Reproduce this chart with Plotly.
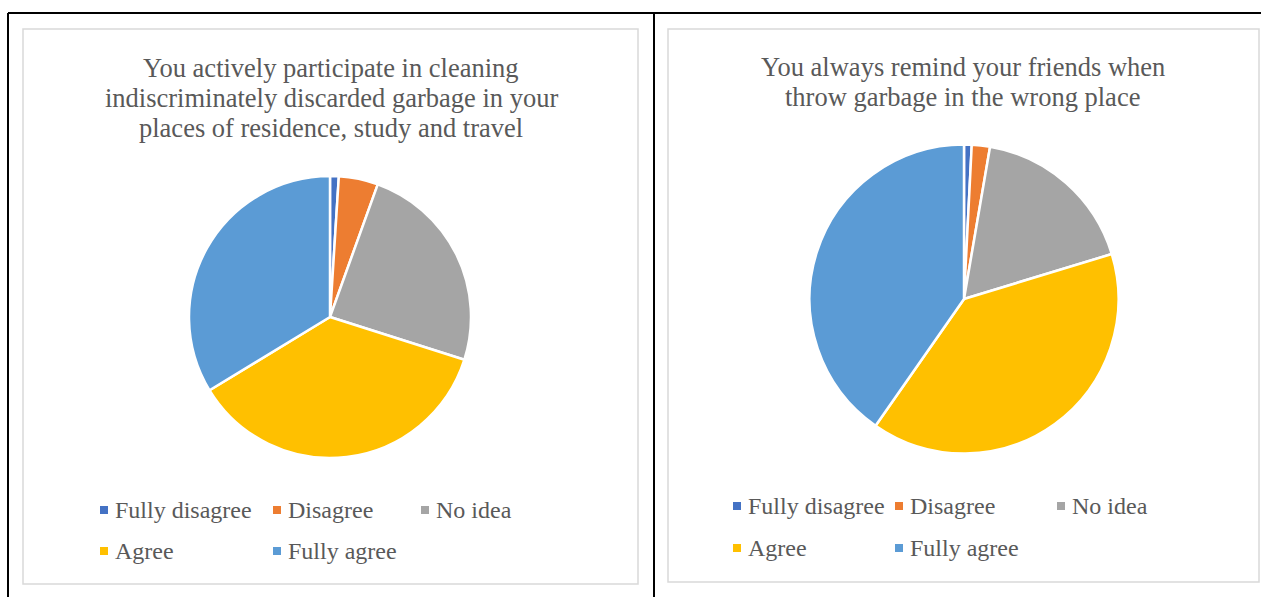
import plotly.graph_objects as go

W, H = 1261, 597

labels = ["Fully disagree", "Disagree", "No idea", "Agree", "Fully agree"]
colors = ["#4472C4", "#ED7D31", "#A5A5A5", "#FFC000", "#5B9BD5"]

participate_pct = [1.0, 4.5, 24.4, 36.4, 33.7]
remind_pct = [0.8, 1.9, 17.6, 39.4, 40.3]

title_left = ["You actively participate in cleaning",
              "indiscriminately discarded garbage in your",
              "places of residence, study and travel"]
title_right = ["You always remind your friends when",
               "throw garbage in the wrong place"]

FONT = "Liberation Serif, Times New Roman, serif"
TEXT = "#595959"


def px(x):
    return x / W


def py(y):
    return 1 - y / H


def pie_domain(cx, cy, r):
    return dict(x=[px(cx - r), px(cx + r)], y=[py(cy + r), py(cy - r)])


fig = go.Figure()

# left pie
fig.add_trace(go.Pie(
    labels=labels, values=participate_pct, sort=False,
    direction="clockwise", rotation=0,
    marker=dict(colors=colors, line=dict(color="white", width=2.5)),
    textinfo="none", showlegend=False,
    domain=pie_domain(330, 317, 141),
))

# right pie
fig.add_trace(go.Pie(
    labels=labels, values=remind_pct, sort=False,
    direction="clockwise", rotation=0,
    marker=dict(colors=colors, line=dict(color="white", width=2.5)),
    textinfo="none", showlegend=False,
    domain=pie_domain(964, 299, 154.5),
))

shapes = []
annotations = []

# table borders
black = dict(color="black", width=2)
shapes.append(dict(type="line", xref="paper", yref="paper",
                   x0=px(8), x1=1, y0=py(13), y1=py(13), line=black))
shapes.append(dict(type="line", xref="paper", yref="paper",
                   x0=px(8), x1=px(8), y0=py(13), y1=0, line=black))
shapes.append(dict(type="line", xref="paper", yref="paper",
                   x0=px(654), x1=px(654), y0=py(13), y1=0, line=black))

# chart frames
gray = dict(color="#D9D9D9", width=1.5)
for x0, x1, y0, y1 in [(23, 638, 29, 584), (668, 1259, 29, 582)]:
    shapes.append(dict(type="rect", xref="paper", yref="paper",
                       x0=px(x0), x1=px(x1), y0=py(y1), y1=py(y0), line=gray))

# titles
for lines, cx, y0 in [(title_left, 331, 68), (title_right, 963, 67)]:
    for i, t in enumerate(lines):
        annotations.append(dict(
            text=t, xref="paper", yref="paper", x=px(cx), y=py(y0 + 30 * i),
            xanchor="center", yanchor="middle", showarrow=False,
            font=dict(family=FONT, size=26.5, color=TEXT)))

# legends
legend_pos = [
    [(104, 510), (277, 510), (425, 510), (104, 551), (277, 551)],
    [(737, 506), (899, 506), (1061, 506), (737, 548), (899, 548)],
]
for pos in legend_pos:
    for lab, col, (mx, my) in zip(labels, colors, pos):
        shapes.append(dict(type="rect", xref="paper", yref="paper",
                           x0=px(mx - 4), x1=px(mx + 4), y0=py(my + 4), y1=py(my - 4),
                           fillcolor=col, line=dict(width=0)))
        annotations.append(dict(
            text=lab, xref="paper", yref="paper", x=px(mx + 9), y=py(my),
            xanchor="left", yanchor="middle", showarrow=False,
            font=dict(family=FONT, size=24, color=TEXT)))

fig.update_layout(
    width=W, height=H,
    margin=dict(l=0, r=0, t=0, b=0),
    paper_bgcolor="white", plot_bgcolor="white",
    shapes=shapes, annotations=annotations,
    showlegend=False,
)

fig.write_html("out.html", config={"displayModeBar": False},
               post_script="document.body.style.margin='0';")
